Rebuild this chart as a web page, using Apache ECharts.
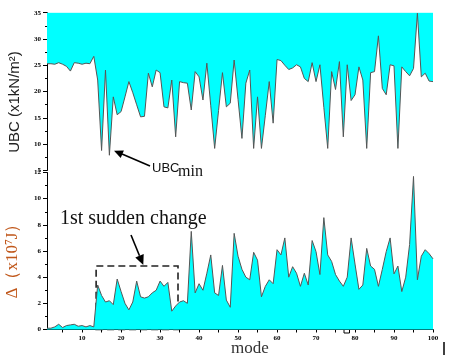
<!DOCTYPE html>
<html><head><meta charset="utf-8">
<script src="https://cdn.jsdelivr.net/npm/echarts@6/dist/echarts.min.js"></script>
<style>html,body{margin:0;padding:0;background:#fff}#c{width:450px;height:359px}</style>
</head><body><div id="c"></div>
<script>
const modes = Array.from({length:100},(_,i)=>i+1);
const ubc = [25.3,25.3,25.2,25.5,25.2,24.8,23.9,25.5,25.4,25.2,
25.4,25.3,26.7,22.2,8.8,24.1,7.9,19.0,15.6,16.2,
19.0,21.9,19.8,17.5,15.2,15.3,23.5,20.9,24.1,23.6,
17.1,16.9,22.2,11.4,21.9,21.7,21.6,16.5,23.8,22.8,
18.4,25.4,17.3,9.2,16.4,23.6,17.1,17.8,26.0,18.5,
11.1,21.6,24.1,9.2,19.0,9.2,15.5,21.9,14.0,26.1,
25.9,25.0,24.2,24.5,25.1,24.7,22.5,21.9,25.5,21.9,
25.1,17.0,9.2,23.8,20.4,25.7,11.4,25.1,18.3,19.4,
24.7,22.2,9.2,23.6,23.8,30.6,20.6,19.4,25.1,24.9,
9.2,24.7,23.8,23.0,24.4,34.9,22.8,23.5,22.0,21.9];
const delta = [0.1,0.1,0.2,0.4,0.15,0.3,0.35,0.4,0.25,0.3,
0.2,0.3,0.2,3.4,2.6,2.1,2.2,1.9,3.86,2.9,
2.0,1.5,2.1,3.7,2.5,2.4,2.5,2.8,3.0,3.7,
3.3,3.6,1.4,1.8,2.1,2.2,2.0,7.5,2.8,3.5,
3.0,4.3,5.7,2.8,2.6,4.9,2.25,1.7,7.35,5.6,
4.6,4.0,3.8,5.9,5.3,2.5,3.3,3.8,3.5,6.1,
5.7,7.0,4.0,4.8,4.3,3.3,4.3,3.4,6.8,5.95,
4.2,8.55,5.7,5.2,4.2,3.7,3.3,4.0,7.0,5.0,
3.07,3.4,6.2,4.85,4.6,3.3,4.6,5.95,7.0,4.25,
4.85,2.9,4.0,6.5,11.7,3.8,5.6,6.1,5.8,5.4];
const modeLabels = [10,20,30,40,50,60,70,80,90,100];
const modeTicks = [5,10,15,20,25,30,35,40,45,50,55,60,65,70,75,80,85,90,95,100];
const boxMode = [13.6, 34.6];
const boxDelta = [0, 4.85];

const chart = echarts.init(document.getElementById('c'), null, {renderer:'canvas'});
const lblStyle = {fontSize:7, fontWeight:'bold', fontFamily:'Liberation Serif', color:'#000'};
function yAx(g, mn, mx, iv){
  return {gridIndex:g, type:'value', min:mn, max:mx, interval:iv,
    axisLine:{show:true, lineStyle:{color:'#000', width:1}},
    axisTick:{show:true, length:4, lineStyle:{color:'#000'}},
    minorTick:{show:true, splitNumber:2, length:2, lineStyle:{color:'#000'}},
    axisLabel:Object.assign({margin:6}, lblStyle),
    splitLine:{show:false}};
}
const arrowStyle = {stroke:'#000', lineWidth:1.6};
chart.setOption({
  animation:false,
  grid:[{left:47, right:17, top:12.7, height:157.8},
        {left:47, right:17, top:172.5, height:157}],
  xAxis:[
    {gridIndex:0, type:'value', min:1, max:100, show:false},
    {gridIndex:1, type:'value', min:1, max:100,
     axisLine:{show:true, onZero:false, lineStyle:{color:'#000', width:1}},
     axisTick:{show:true, customValues:modeTicks, length:3, lineStyle:{color:'#000'}},
     axisLabel:Object.assign({customValues:modeLabels, margin:5}, lblStyle),
     splitLine:{show:false}}
  ],
  yAxis:[yAx(0,5,35,5), yAx(1,0,12,2)],
  series:[
    {type:'line', xAxisIndex:0, yAxisIndex:0, symbol:'none',
     data:modes.map((m,i)=>[m, ubc[i]]),
     lineStyle:{color:'#555', width:1},
     areaStyle:{color:'#00ffff', opacity:1, origin:'end'}},
    {type:'line', xAxisIndex:1, yAxisIndex:1, symbol:'none',
     data:modes.map((m,i)=>[m, delta[i]]),
     lineStyle:{color:'#555', width:1},
     areaStyle:{color:'#00ffff', opacity:1, origin:'start'},
     markArea:{silent:true,
       itemStyle:{color:'rgba(0,0,0,0)', borderColor:'#222', borderWidth:1.6, borderType:[7,4]},
       data:[[{xAxis:boxMode[0], yAxis:boxDelta[0]},{xAxis:boxMode[1], yAxis:boxDelta[1]}]]}}
  ],
  graphic:[
    {type:'text', x:15, y:102, rotation:Math.PI/2,
     style:{text:'UBC (x1kN/m²)', font:'15px "Liberation Sans"', fill:'#222', align:'center', verticalAlign:'middle', textAlign:'center', textVerticalAlign:'middle'}},
    {type:'text', x:13, y:257, rotation:Math.PI/2,
     style:{text:'Δ（x10⁷J）', font:'17px "Liberation Serif"', fill:'#c0571a', align:'center', verticalAlign:'middle', textAlign:'center', textVerticalAlign:'middle'}},
    {type:'text', x:152, y:168,
     style:{text:'UBC', font:'13px "Liberation Sans"', fill:'#111', align:'left', verticalAlign:'middle', textAlign:'left', textVerticalAlign:'middle'}},
    {type:'text', x:178, y:172,
     style:{text:'min', font:'16px "Liberation Serif"', fill:'#111', align:'left', verticalAlign:'middle', textAlign:'left', textVerticalAlign:'middle'}},
    {type:'line', shape:{x1:150, y1:166, x2:122, y2:154}, style:arrowStyle},
    {type:'polygon', shape:{points:[[114,150.7],[123.9,150.5],[120.7,157.9]]}, style:{fill:'#000'}},
    {type:'text', x:60, y:219,
     style:{text:'1st sudden change', font:'20px "Liberation Serif"', fill:'#111', align:'left', verticalAlign:'middle', textAlign:'left', textVerticalAlign:'middle'}},
    {type:'line', shape:{x1:131, y1:235, x2:139.5, y2:255.7}, style:arrowStyle},
    {type:'polygon', shape:{points:[[143.3,265],[135.3,257.4],[143.7,254.0]]}, style:{fill:'#000'}},
    {type:'text', x:250, y:349,
     style:{text:'mode', font:'17px "Liberation Serif"', fill:'#333', align:'center', verticalAlign:'middle', textAlign:'center', textVerticalAlign:'middle'}},
    {type:'rect', shape:{x:344, y:327.5, width:5.5, height:5.5}, style:{fill:'#fff', stroke:'#000', lineWidth:1}},
    {type:'line', shape:{x1:444, y1:342, x2:444, y2:355}, style:{stroke:'#000', lineWidth:1.5}}
  ]
});
</script>
</body></html>
